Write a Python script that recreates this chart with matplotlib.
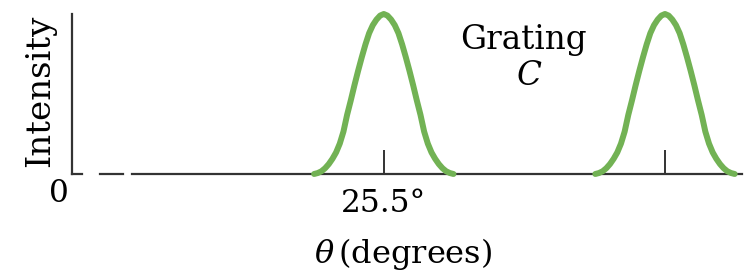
import numpy as np
import matplotlib
matplotlib.use("Agg")
import matplotlib.pyplot as plt

plt.rcParams['font.family'] = ['DejaVu Serif']
plt.rcParams['mathtext.fontset'] = 'dejavuserif'

# --- data ---
peak_centers = [25.5, 48.5]          # degrees (axis is broken, not to scale)
tick_labels = ["25.5°", ""]
# half-profile of one principal maximum: offset from centre (deg) -> relative intensity
profile_offset = [0.0, 0.3, 0.6, 0.9, 1.2, 1.5, 1.8, 2.1, 2.4, 2.7,
                  3.0, 3.3, 3.6, 3.9, 4.2, 4.5, 4.8, 5.1, 5.4, 5.7]
profile_intensity = [1.0, 0.99, 0.965, 0.93, 0.88, 0.81, 0.73, 0.645, 0.555, 0.46,
                     0.37, 0.265, 0.19, 0.135, 0.095, 0.062, 0.036, 0.017, 0.006, 0.0]
x_max = 54.8

green = '#72b254'
axis_col = '#333333'

fig = plt.figure(figsize=(7.48, 2.76), dpi=100)
ax = fig.add_axes([0.0963, 0.3696, 0.8957, 0.5797])

off = np.array(profile_offset)
inten = np.array(profile_intensity)
for c in peak_centers:
    xs = np.concatenate([c - off[::-1], c + off[1:]])
    ys = np.concatenate([inten[::-1], inten[1:]])
    ax.plot(xs, ys, color=green, lw=4.3, solid_capstyle='round',
            solid_joinstyle='round', clip_on=False, zorder=3)

# broken horizontal axis
for x0, x1 in [(0, 0.85), (2.3, 4.2), (4.9, x_max)]:
    ax.plot([x0, x1], [0, 0], color=axis_col, lw=1.6, clip_on=False, zorder=2)

ax.set_xlim(0, x_max)
ax.set_ylim(0, 1.0)
for s in ['top', 'right', 'bottom']:
    ax.spines[s].set_visible(False)
ax.spines['left'].set_color(axis_col)
ax.spines['left'].set_linewidth(1.6)
ax.set_yticks([])

ax.set_xticks(peak_centers)
ax.set_xticklabels(tick_labels, fontsize=22.5)
ax.tick_params(axis='x', direction='in', length=17, width=1.4, color=axis_col, pad=10)

ax.set_xlabel(r'$\theta\,$(degrees)', fontsize=23, va='center')
ax.xaxis.set_label_coords(0.494, -0.5)
ax.set_ylabel('Intensity', fontsize=24.5, va='center')
ax.yaxis.set_label_coords(-0.048, 0.52)

ax.text(-1.06, -0.12, '0', fontsize=22.5, ha='center', va='center')
ax.text(36.9, 0.84, 'Grating', fontsize=23.5, ha='center', va='center')
ax.text(37.4, 0.61, 'C', fontsize=23.5, style='italic', ha='center', va='center')

fig.savefig('out.png', dpi=100)
